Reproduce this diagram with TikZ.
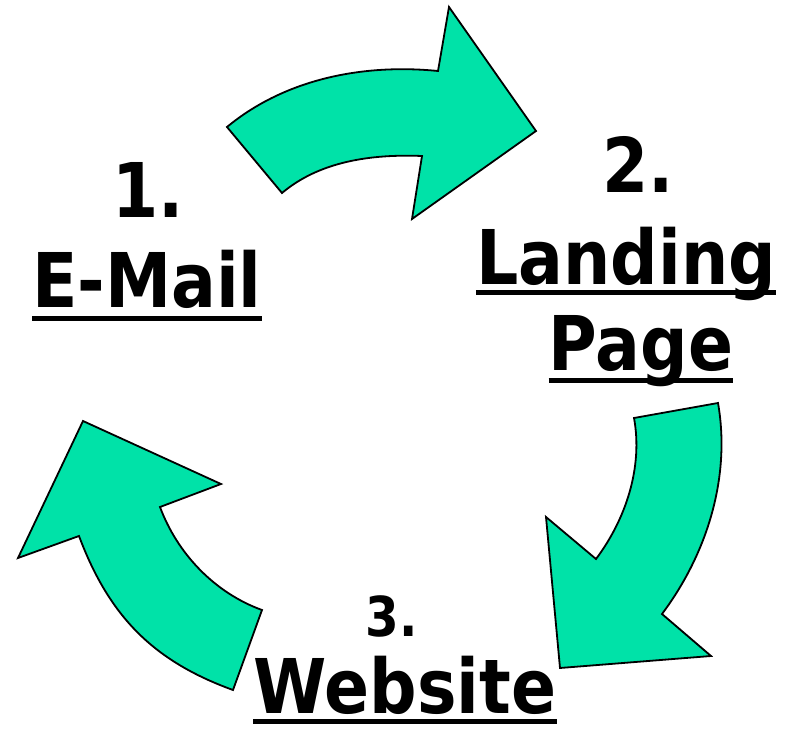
\documentclass[tikz,border=0pt]{standalone}
\usepackage{fontspec}
\newfontfamily\tah{DejaVu Sans Bold}[FakeStretch=0.88]
\definecolor{arrowfill}{RGB}{0,226,168}
\begin{document}
\begin{tikzpicture}[x=1pt,y=-1pt,
  bigarrow/.style={fill=arrowfill,draw=black,line width=1.8pt,line join=miter},
  bigtext/.style={inner sep=0pt,anchor=base,font=\tah\fontsize{75.5}{80}\selectfont},
  smalltext/.style={inner sep=0pt,anchor=base,font=\tah\fontsize{55}{60}\selectfont},
  uline/.style={line width=5pt}]
\useasboundingbox (0,0) rectangle (790,730);

% arrow 1 (top)
\draw[bigarrow] (227,127) .. controls (285,79) and (363,63.5) .. (438,71)
  -- (449,7) -- (536,131) -- (412,219) -- (422,156)
  .. controls (372,154) and (320,161) .. (282,193) -- cycle;
% arrow 2 (right)
\draw[bigarrow] (718,403) .. controls (731,477) and (707,554) .. (662,614)
  -- (711,656) -- (560,668) -- (546,517) -- (596,559)
  .. controls (626,519) and (643,467) .. (634,418) -- cycle;
% arrow 3 (left)
\draw[bigarrow] (262,610) .. controls (215,593) and (177.5,554) .. (160,507)
  -- (221,484) -- (83,421) -- (18,558) -- (79,536)
  .. controls (109,616) and (153,661) .. (233,690) -- cycle;

% texts
\node[bigtext] (n1) at (148,218) {1.};
\node[bigtext] (email) at (147,307) {E-Mail};
\node[bigtext] (n2) at (638,193) {2.};
\node[bigtext] (landing) at (626,284) {Landing};
\node[bigtext] (page) at (641,370) {Page};
\node[smalltext] (n3) at (392,636) {3.};
\node[bigtext] (website) at (405,713) {Website};

\draw[uline] ([yshift=-11pt]email.base west) -- ([yshift=-11pt]email.base east);
\draw[uline] ([yshift=-8pt]landing.base west) -- ([yshift=-8pt]landing.base east);
\draw[uline] ([yshift=-10pt]page.base west) -- ([yshift=-10pt]page.base east);
\draw[uline] ([yshift=-8pt]website.base west) -- ([yshift=-8pt]website.base east);
\end{tikzpicture}
\end{document}
